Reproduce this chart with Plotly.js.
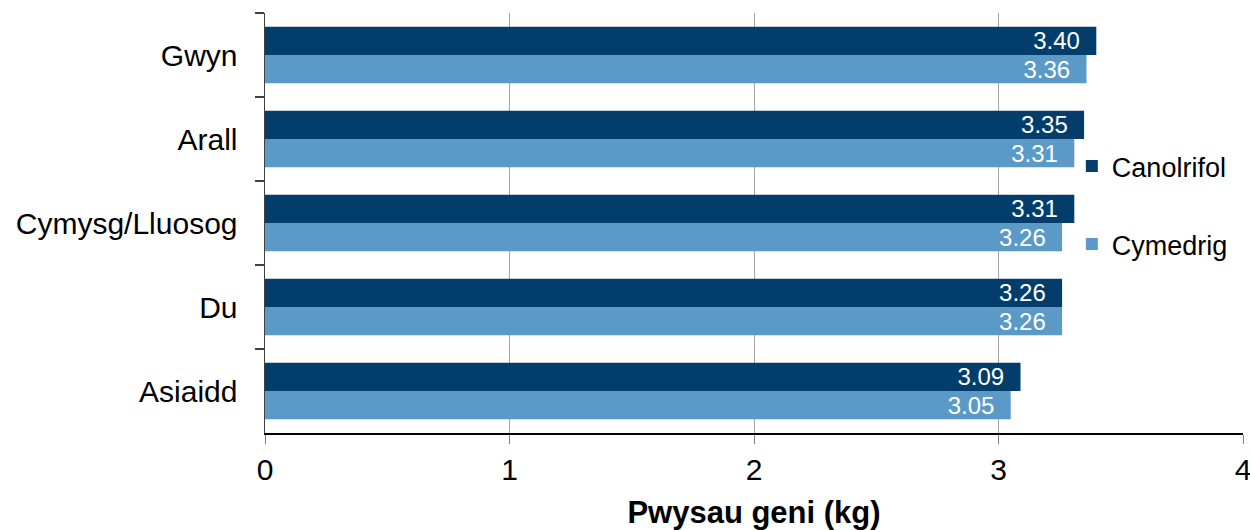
<!DOCTYPE html>
<html>
<head>
<meta charset="utf-8">
<script src="https://cdn.plot.ly/plotly-3.0.1.min.js"></script>
<style>html,body{margin:0;padding:0;background:#fff;}#chart{width:1250px;height:530px;}</style>
</head>
<body>
<div id="chart"></div>
<script>
const categories = ['Gwyn', 'Arall', 'Cymysg/Lluosog', 'Du', 'Asiaidd'];
const medianValues = [3.40, 3.35, 3.31, 3.26, 3.09];
const meanValues = [3.36, 3.31, 3.26, 3.26, 3.05];
const seriesNames = ['Canolrifol', 'Cymedrig'];
const xTickValues = [0, 1, 2, 3, 4];
const xTitle = 'Pwysau geni (kg)';

const font = 'Liberation Sans, Arial, sans-serif';

const common = {
  type: 'bar',
  orientation: 'h',
  y: categories,
  texttemplate: '%{x:.2f}\u00a0\u00a0',
  textposition: 'inside',
  insidetextanchor: 'end',
  textangle: 0,
  constraintext: 'none',
  textfont: {family: font, size: 24, color: '#ffffff'},
  hoverinfo: 'x+y+name'
};

const traces = [
  Object.assign({}, common, {
    name: seriesNames[0], x: medianValues, legendgroup: 'a',
    marker: {color: '#023d6b'}
  }),
  Object.assign({}, common, {
    name: seriesNames[1], x: meanValues, legendgroup: 'b',
    marker: {color: '#5b9ac7'}
  })
];

const layout = {
  width: 1250, height: 530,
  margin: {l: 265, r: 7, t: 13, b: 97},
  paper_bgcolor: '#ffffff', plot_bgcolor: '#ffffff',
  font: {family: font, size: 30, color: '#000000'},
  barmode: 'group',
  bargap: 0.326,
  bargroupgap: 0,
  showlegend: true,
  legend: {
    x: 0.825, y: 0.693, xanchor: 'left', yanchor: 'top',
    font: {family: font, size: 27, color: '#000000'},
    bgcolor: 'rgba(0,0,0,0)',
    traceorder: 'grouped', tracegroupgap: 40,
    itemwidth: 30
  },
  xaxis: {
    range: [0, 4],
    tickvals: xTickValues,
    ticks: 'outside', ticklen: 9, tickcolor: '#808080', tickwidth: 1,
    showline: true, linecolor: '#000000', linewidth: 1.5,
    showgrid: true, gridcolor: '#a6a6a6', gridwidth: 1,
    zeroline: false,
    ticklabeloverflow: 'allow',
    tickfont: {family: font, size: 30},
    title: {text: xTitle, font: {family: font, size: 31, weight: 'bold'}, standoff: 19}
  },
  yaxis: {
    type: 'category',
    autorange: 'reversed',
    tickson: 'boundaries',
    ticks: 'outside', ticklen: 9, tickcolor: '#404040', tickwidth: 1.5,
    showline: true, linecolor: '#404040', linewidth: 1.5,
    showgrid: false, zeroline: false,
    tickfont: {family: font, size: 30},
    ticklabelstandoff: 20
  }
};

Plotly.newPlot('chart', traces, layout, {displayModeBar: false, staticPlot: true});
</script>
</body>
</html>
